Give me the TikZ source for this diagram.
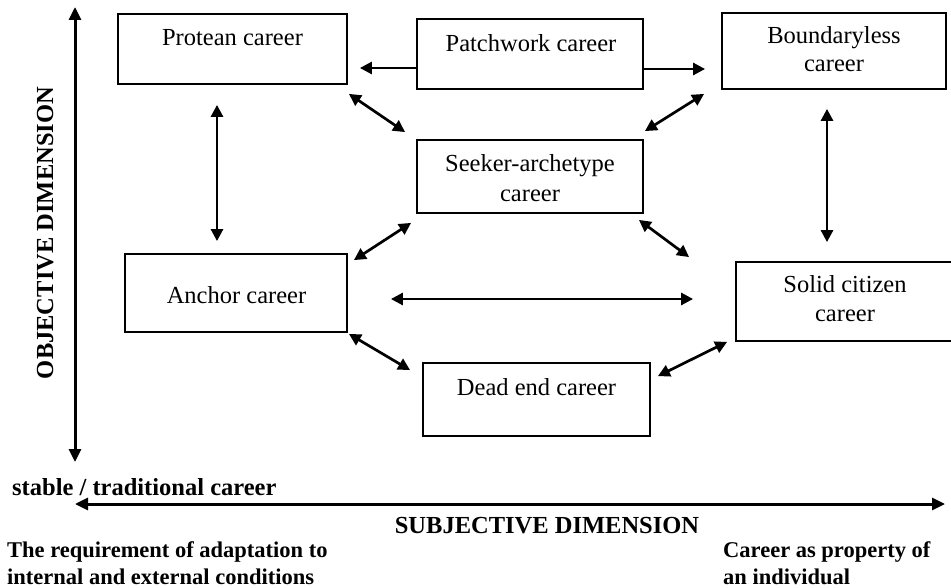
\documentclass[tikz,border=0pt]{standalone}
\usepackage{fontspec}
\setmainfont{Liberation Serif}
\usetikzlibrary{arrows.meta,calc}
\begin{document}
\begin{tikzpicture}[x=1pt,y=-1pt,
 box/.style={draw,line width=1.8pt,inner sep=0pt},
 txt/.style={font=\fontsize{24.5}{29}\selectfont,anchor=base,inner sep=0pt},
 btxt/.style={font=\fontsize{24.5}{29}\selectfont\bfseries,anchor=base,inner sep=0pt},
 stxt/.style={font=\fontsize{22.5}{27}\selectfont\bfseries,anchor=base west,inner sep=0pt},
 arr/.style={line width=2.7pt,{Triangle[length=12pt,width=12pt]}-{Triangle[length=12pt,width=12pt]}},
 sarr/.style={line width=2.7pt,-{Triangle[length=12pt,width=12pt]}},
 axis/.style={line width=3pt,{Triangle[length=13pt,width=12pt]}-{Triangle[length=13pt,width=12pt]}}]
\useasboundingbox (0,0) rectangle (951,588);

% boxes
\node[box,minimum width=229pt,minimum height=70pt] (protean) at (232.5,49) {};
\node[box,minimum width=226pt,minimum height=70pt] (patch) at (530,54) {};
\node[box,minimum width=224pt,minimum height=76pt] (bound) at (834,51) {};
\node[box,minimum width=226pt,minimum height=73pt] (seeker) at (530,176.5) {};
\node[box,minimum width=222pt,minimum height=78pt] (anchor) at (236,293) {};
\node[box,minimum width=222pt,minimum height=79pt] (solid) at (847,301.5) {};
\node[box,minimum width=227pt,minimum height=73pt] (dead) at (536.5,399.5) {};

% box texts
\node[txt] (t1) at (232.5,46) {Protean career};
\node[txt] (t2) at (531,52) {Patchwork career};
\node[txt] (t3a) at (834,44) {Boundaryless};
\node[txt] (t3b) at (834,72) {career};
\node[txt] (t4a) at (530,172) {Seeker-archetype};
\node[txt] (t4b) at (530,202) {career};
\node[txt] (t5) at (236.5,303) {Anchor career};
\node[txt] (t6a) at (845,293) {Solid citizen};
\node[txt] (t6b) at (845,322) {career};
\node[txt] (t7) at (536.5,395) {Dead end career};

% connectors
\draw[sarr] ($(patch.west)+(0,14)$) -- ($(protean.east)+(12,19)$);
\draw[sarr] ($(patch.east)+(0,15)$) -- ($(bound.west)+(-16,18)$);
\draw[arr] ($(protean.south east)+(1,9)$) -- ($(seeker.north west)+(-11,-7)$);
\draw[arr] ($(bound.south west)+(-17,4)$) -- ($(seeker.north east)+(1,-8)$);
\draw[arr] ($(protean.south)+(-15.5,20)$) -- ($(anchor.north)+(-19,-12)$);
\draw[arr] ($(bound.south)+(-7,19)$) -- ($(solid.north)+(-20,-19)$);
\draw[arr] ($(seeker.south west)+(-5,9)$) -- ($(anchor.north east)+(6,7)$);
\draw[arr] ($(seeker.south east)+(-5,6)$) -- ($(solid.north west)+(-46,-4)$);
\draw[arr] ($(anchor.east)+(43,6)$) -- ($(solid.west)+(-42,-2.5)$);
\draw[arr] ($(anchor.south east)+(1,1)$) -- ($(dead.north west)+(-12,8)$);
\draw[arr] ($(dead.north east)+(7,14)$) -- ($(solid.south west)+(-8,0)$);

% axes
\coordinate (vtop) at (75,7);
\coordinate (vbot) at (75,462);
\coordinate (hl) at (75,504);
\coordinate (hr) at (945,504);
\draw[axis] (vtop) -- (vbot);
\draw[axis] (hl) -- (hr);

% axis labels
\node[btxt,rotate=90] (obj) at (53,233) {OBJECTIVE DIMENSION};
\node[btxt] (subj) at (547,533) {SUBJECTIVE DIMENSION};
\node[btxt,anchor=base west] (stable) at (12,495) {stable / traditional career};
\node[stxt] (req1) at (7,557) {The requirement of adaptation to};
\node[stxt] (req2) at (7,584) {internal and external conditions};
\node[stxt] (prop1) at (723,557) {Career as property of};
\node[stxt] (prop2) at (723,584) {an individual};
\end{tikzpicture}
\end{document}
